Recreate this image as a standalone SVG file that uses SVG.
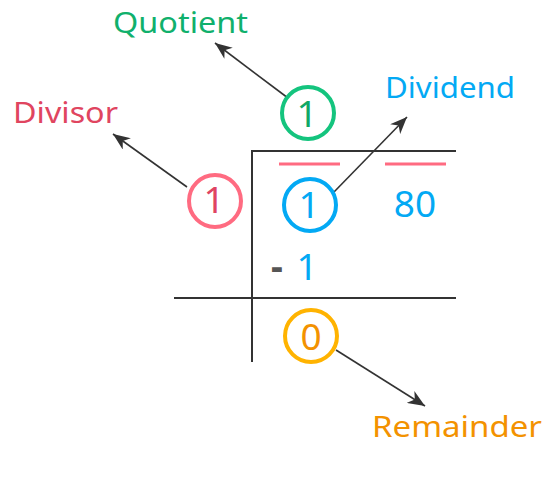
<svg xmlns="http://www.w3.org/2000/svg" width="555" height="493" viewBox="0 0 555 493">
<style>
.lbl{font-family:"Noto Sans","Liberation Sans",sans-serif;font-size:29px}
.num{font-family:"Noto Sans","Liberation Sans",sans-serif;font-size:37px;text-anchor:middle}
.ring{fill:none;stroke-width:4}
.rule{stroke:#333;stroke-width:2;fill:none}
.conn{stroke:#333;stroke-width:1.6;fill:none;marker-end:url(#ah)}
</style>
<defs>
<marker id="ah" markerUnits="userSpaceOnUse" markerWidth="18" markerHeight="14" refX="17" refY="7" orient="auto">
<path d="M0,0 L17,7 L0,14 L5,7 Z" fill="#333"/>
</marker>
</defs>
<rect width="555" height="493" fill="#fff"/>
<g id="bracket">
<path class="rule" d="M252,362 V151 H456"/>
<path class="rule" d="M174,298 H456"/>
<path d="M279,164 H340 M385,164 H446" stroke="#ff6b81" stroke-width="3"/>
</g>
<g id="connectors">
<line class="conn" x1="288" y1="98" x2="215" y2="43"/>
<line class="conn" x1="187" y1="187" x2="113" y2="134"/>
<line class="conn" x1="334" y1="192" x2="407" y2="117"/>
<line class="conn" x1="336" y1="350" x2="425" y2="406"/>
</g>
<g id="quotient">
<circle class="ring" cx="308" cy="113" r="26" stroke="#14c47e"/>
<text class="num" x="307" y="127" fill="#10a866">1</text>
<text class="lbl" x="113" y="33" fill="#10b06c" textLength="135" lengthAdjust="spacingAndGlyphs">Quotient</text>
</g>
<g id="divisor">
<circle class="ring" cx="215" cy="201" r="26" stroke="#ff6b81"/>
<text class="num" x="214" y="213" fill="#e04462">1</text>
<text class="lbl" x="13" y="123" fill="#e0455f" textLength="105" lengthAdjust="spacingAndGlyphs">Divisor</text>
</g>
<g id="dividend">
<circle class="ring" cx="310" cy="205" r="26" stroke="#03a9f4"/>
<text class="num" x="309" y="218" fill="#03a9f4">1</text>
<text class="num" x="415" y="217" fill="#03a9f4">80</text>
<text class="lbl" x="385" y="98" fill="#03a9f4" textLength="130" lengthAdjust="spacingAndGlyphs">Dividend</text>
</g>
<g id="subtract">
<text class="num" x="277" y="280" fill="#555" font-weight="700">-</text>
<text class="num" x="307" y="280" fill="#03a9f4">1</text>
</g>
<g id="remainder">
<circle class="ring" cx="311" cy="336" r="26" stroke="#ffb300"/>
<text class="num" x="311" y="350" fill="#f39200">0</text>
<text class="lbl" x="372" y="437" fill="#f39200" textLength="170" lengthAdjust="spacingAndGlyphs">Remainder</text>
</g>
</svg>
